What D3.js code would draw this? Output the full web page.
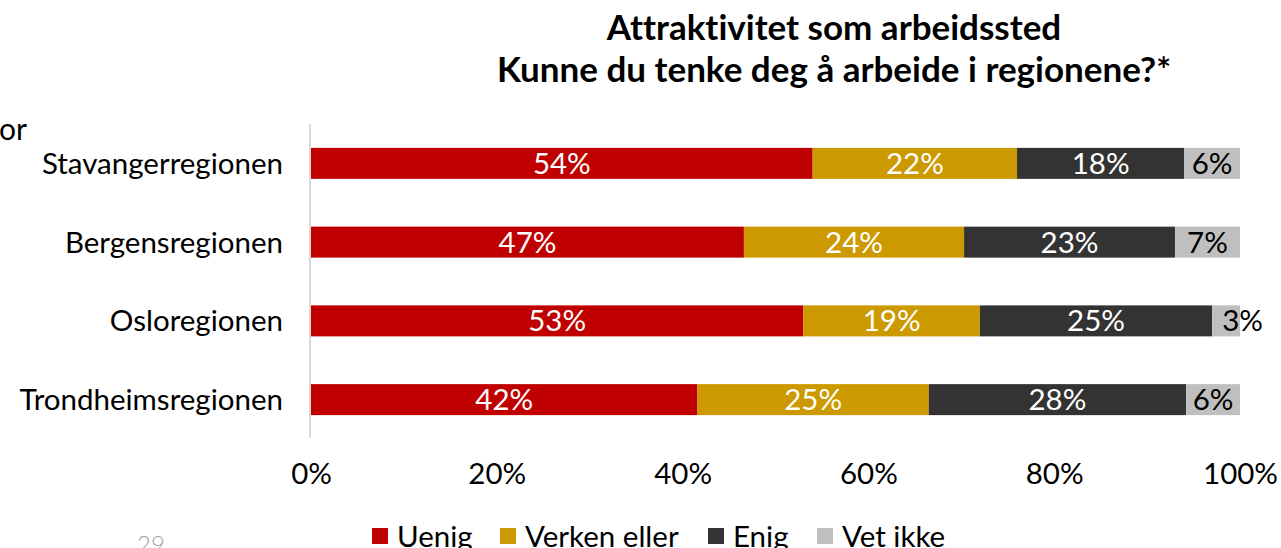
<!DOCTYPE html>
<html><head><meta charset="utf-8">
<script src="https://cdn.jsdelivr.net/npm/d3@7"></script>
<style>body{margin:0;background:#fff;} svg{display:block;font-family:Lato,sans-serif;font-variant-ligatures:none;}</style>
</head><body>
<svg id="c" width="1281" height="548"></svg>
<script>
const titleLines = ["Attraktivitet som arbeidssted", "Kunne du tenke deg å arbeide i regionene?*"];
const categories = ["Stavangerregionen", "Bergensregionen", "Osloregionen", "Trondheimsregionen"];
const seriesNames = ["Uenig", "Verken eller", "Enig", "Vet ikke"];
const seriesColors = ["#C00000", "#CC9900", "#333333", "#BFBFBF"];
const labelColors = ["#ffffff", "#ffffff", "#ffffff", "#000000"];
const uenig = [54.0, 46.6, 53.0, 41.6];
const verken = [22.0, 23.7, 19.0, 24.9];
const enig = [18.0, 22.7, 25.0, 27.7];
const vetIkke = [6.0, 7.0, 3.0, 5.8];
const tickValues = [0, 20, 40, 60, 80, 100];

const FS = 29.5;
const svg = d3.select("#c");
const x = d3.scaleLinear().domain([0, 100]).range([311, 1240]);
const y = d3.scaleBand().domain(categories).range([124, 439]).paddingInner(0.6).paddingOuter(0.3);

const rows = categories.map((c, i) => ({cat: c, Uenig: uenig[i], "Verken eller": verken[i], Enig: enig[i], "Vet ikke": vetIkke[i]}));
const stacked = d3.stack().keys(seriesNames)(rows);

// title
svg.append("g").selectAll("text").data(titleLines).join("text")
  .attr("x", 834).attr("y", (d, i) => 40 + i * 42)
  .attr("text-anchor", "middle").attr("font-weight", "bold").attr("font-size", 35).attr("fill", "#000")
  .text(d => d);

// stray texts
svg.append("text").attr("x", -1).attr("y", 140).attr("font-size", 30).attr("fill", "#000").text("or");
svg.append("text").attr("x", 137).attr("y", 553).attr("font-size", 24).attr("font-weight", 300).attr("fill", "#a0a0a0").text("29");

// axis line
svg.append("line").attr("x1", 310).attr("x2", 310).attr("y1", 124).attr("y2", 438).attr("stroke", "#d9d9d9").attr("stroke-width", 2);

// bars
const bw = 31;
const layers = svg.append("g").selectAll("g").data(stacked).join("g")
  .attr("fill", (d, i) => seriesColors[i]);
layers.selectAll("rect").data(d => d).join("rect")
  .attr("x", d => x(d[0])).attr("width", d => x(d[1]) - x(d[0]))
  .attr("y", d => y(d.data.cat) + y.bandwidth() / 2 - bw / 2).attr("height", bw);

// labels
stacked.forEach((layer, si) => {
  svg.append("g").selectAll("text").data(layer).join("text")
    .attr("y", d => y(d.data.cat) + y.bandwidth() / 2)
    .attr("dy", "0.36em")
    .attr("font-size", FS).attr("fill", labelColors[si])
    .text(d => Math.round(d[1] - d[0]) + "%")
    .each(function(d) {
      const w = this.getComputedTextLength();
      const x0 = x(d[0]), x1 = x(d[1]);
      const el = d3.select(this);
      if (w > x1 - x0) { el.attr("x", x0 + 10).attr("text-anchor", "start"); }
      else { el.attr("x", (x0 + x1) / 2).attr("text-anchor", "middle"); }
    });
});

// category labels
svg.append("g").selectAll("text").data(categories).join("text")
  .attr("x", 283).attr("y", d => y(d) + y.bandwidth() / 2).attr("dy", "0.36em")
  .attr("text-anchor", "end").attr("font-size", FS).attr("fill", "#000").text(d => d);

// x axis
const xAxis = svg.append("g").attr("transform", "translate(0,438)")
  .call(d3.axisBottom(x).tickValues(tickValues).tickFormat(d => d + "%").tickSize(0).tickPadding(0));
xAxis.select(".domain").remove();
xAxis.selectAll("text").attr("font-family", "Lato,sans-serif").attr("font-size", FS).attr("fill", "#000")
  .attr("y", 46).attr("dy", 0);

// legend
const legendX = [372, 500, 708, 817];
const lg = svg.append("g").selectAll("g").data(seriesNames).join("g")
  .attr("transform", (d, i) => `translate(${legendX[i]},0)`);
lg.append("rect").attr("x", 0).attr("y", 528).attr("width", 16).attr("height", 16).attr("fill", (d, i) => seriesColors[i]);
lg.append("text").attr("x", 25).attr("y", 547).attr("font-size", FS).attr("fill", "#000").text(d => d);
</script>
</body></html>
